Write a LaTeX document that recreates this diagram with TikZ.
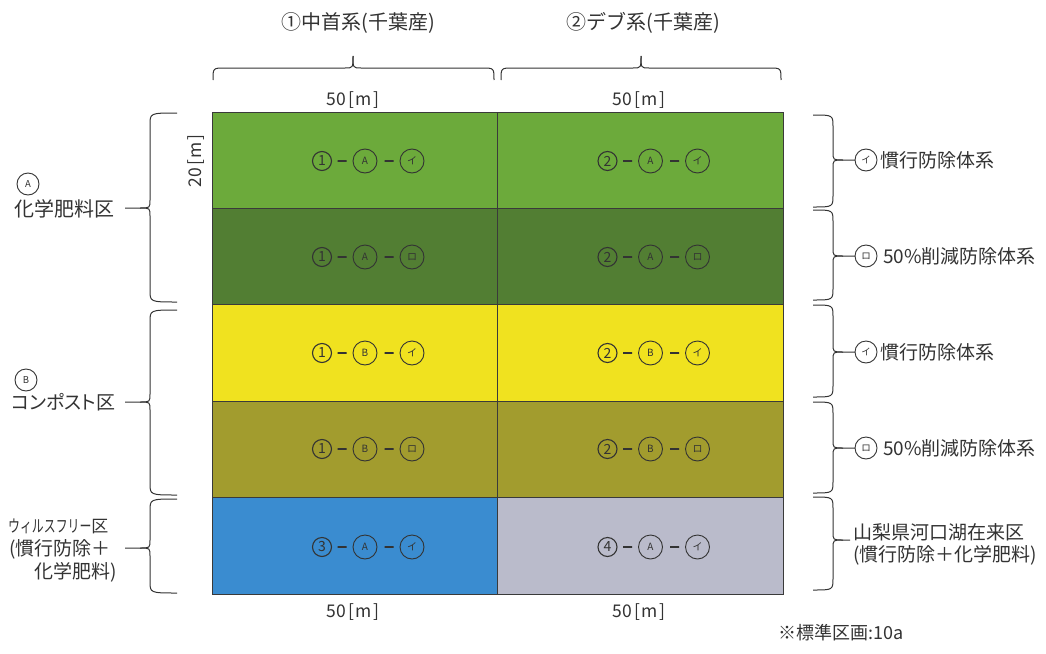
\documentclass[tikz,border=0pt]{standalone}
\usepackage{fontspec}
\usepackage{graphicx}
\setmainfont{Noto Sans CJK JP}
\definecolor{cA}{HTML}{6CAA3B}
\definecolor{cB}{HTML}{527E33}
\definecolor{cC}{HTML}{F0E21F}
\definecolor{cD}{HTML}{A29C2E}
\definecolor{cE}{HTML}{3A8CD0}
\definecolor{cF}{HTML}{BABBCB}
\definecolor{txt}{HTML}{333333}
\definecolor{gridc}{HTML}{3A3A3A}
\newcommand\bracL[3]{%
  \draw[brc] (177,#1) .. controls (150,#1) .. (150,{#1+12}) -- (150,{#3-8}) .. controls (150,#3) .. (140,#3) -- (125,#3);
  \draw[brc] (140,#3) .. controls (150,#3) .. (150,{#3+8}) -- (150,{#2-12}) .. controls (150,#2) .. (177,#2);}
\newcommand\bracR[4]{%
  \draw[brc] (813,#1) .. controls (833,#1) .. (833,{#1+12}) -- (833,{#3-8}) .. controls (833,#3) .. (843,#3) -- (#4,#3);
  \draw[brc] (843,#3) .. controls (833,#3) .. (833,{#3+8}) -- (833,{#2-12}) .. controls (833,#2) .. (813,#2);}
\newcommand\bracT[3]{%
  \draw[brc] (#1,80) .. controls (#1,68) .. ({#1+12},68) -- ({#3-8},68) .. controls (#3,68) .. (#3,56);
  \draw[brc] (#3,56) .. controls (#3,68) .. ({#3+8},68) -- ({#2-12},68) .. controls (#2,68) .. (#2,80);}
\newcommand\cellL[6]{%
  \node[ncirc] (#1n) at ({#2-33},#3) {#4};
  \node[dashf] (#1d1) at ({#2-13},#3) {};
  \node[circ] (#1a) at ({#2+10},#3) {#5};
  \node[dashf] (#1d2) at ({#2+34},#3) {};
  \node[circ] (#1b) at ({#2+57},#3) {#6};}
\newcommand\meter[1]{#1\hspace{2.5pt}[\hspace{1.5pt}m\hspace{1.5pt}]}
\begin{document}
\begin{tikzpicture}[x=1pt,y=-1pt,
  cell/.style={draw=gridc, line width=0.7pt, minimum width=285.5pt, minimum height=96.4pt, inner sep=0},
  brc/.style={draw=txt, line width=1pt},
  lbl/.style={text=txt, inner sep=0, font=\fontsize{19}{22}\selectfont},
  mlbl/.style={text=txt, inner sep=0, font=\fontsize{17.5}{20}\selectfont},
  big/.style={text=txt, inner sep=0, font=\fontsize{20}{22}\selectfont},
  ncirc/.style={circle, draw=txt, line width=1.1pt, minimum size=19pt, inner sep=0, text=txt, font=\fontsize{14}{14}\selectfont},
  dashf/.style={draw=txt, line width=1.1pt, minimum width=9pt, minimum height=0pt, inner sep=0, rectangle, fill=txt},
  circ/.style={circle, draw=txt, line width=0.9pt, minimum size=24pt, inner sep=0, text=txt, font=\fontsize{10}{10}\selectfont},
  scirc/.style={circle, draw=txt, line width=0.9pt, minimum size=22pt, inner sep=0, text=txt, font=\fontsize{9.5}{10}\selectfont}]
\useasboundingbox (0,0) rectangle (1046,653);
\fill[white] (0,0) rectangle (1046,653);
% cells
\node[cell, fill=cA] (r1l) at (355,160.2) {};
\node[cell, fill=cA] (r1r) at (640.5,160.2) {};
\node[cell, fill=cB] (r2l) at (355,256.6) {};
\node[cell, fill=cB] (r2r) at (640.5,256.6) {};
\node[cell, fill=cC] (r3l) at (355,353) {};
\node[cell, fill=cC] (r3r) at (640.5,353) {};
\node[cell, fill=cD] (r4l) at (355,449.4) {};
\node[cell, fill=cD] (r4r) at (640.5,449.4) {};
\node[cell, fill=cE] (r5l) at (355,545.8) {};
\node[cell, fill=cF] (r5r) at (640.5,545.8) {};
% cell labels
\cellL{a}{355}{161}{1}{A}{イ}
\cellL{b}{640.5}{161}{2}{A}{イ}
\cellL{c}{355}{257}{1}{A}{ロ}
\cellL{d}{640.5}{257}{2}{A}{ロ}
\cellL{e}{355}{353}{1}{B}{イ}
\cellL{f}{640.5}{353}{2}{B}{イ}
\cellL{g}{355}{449}{1}{B}{ロ}
\cellL{h}{640.5}{449}{2}{B}{ロ}
\cellL{i}{355}{547}{3}{A}{イ}
\cellL{j}{640.5}{547}{4}{A}{イ}
% top
\node[big] (t1) at (358,23) {①中首系(千葉産)};
\node[big] (t2) at (643,23) {②デブ系(千葉産)};
\bracT{213}{494}{353}
\bracT{501}{781}{641}
\node[mlbl] (m1) at (353,100) {\meter{50}};
\node[mlbl] (m2) at (639,100) {\meter{50}};
\node[mlbl] (m3) at (353,612) {\meter{50}};
\node[mlbl] (m4) at (639,612) {\meter{50}};
\node[mlbl, rotate=90] (m5) at (196,161) {\meter{20}};
% left
\node[scirc] (lA) at (28,184) {A};
\node[big, anchor=west] (lA2) at (14,209) {化学肥料区};
\node[scirc] (lB) at (26,380) {B};
\node[lbl, anchor=west] (lB2) at (11,402) {\addfontfeatures{RawFeature=+palt}コンポスト区};
\node[anchor=west, text=txt, inner sep=0, font=\fontsize{17}{20}\selectfont] (lC1) at (8,526) {\scalebox{0.7}[1]{ウィルスフリー}区};
\node[lbl, anchor=west] (lC2) at (9,549) {(慣行防除＋};
\node[lbl, anchor=west] (lC3) at (34,572) {化学肥料)};
\bracL{113}{302}{208}
\bracL{310}{495}{402}
\bracL{499}{593}{548}
% right
\bracR{115}{207}{160}{855}
\bracR{210}{300}{256}{855}
\bracR{305}{397}{352}{855}
\bracR{402}{493}{448}{855}
\bracR{497}{590}{540}{850}
\node[scirc] (ri1) at (866,160) {イ};
\node[lbl, anchor=west] (rt1) at (880,160) {慣行防除体系};
\node[scirc] (ri2) at (866,256) {ロ};
\node[lbl, anchor=west] (rt2) at (883,256) {50\%削減防除体系};
\node[scirc] (ri3) at (866,352) {イ};
\node[lbl, anchor=west] (rt3) at (880,352) {慣行防除体系};
\node[scirc] (ri4) at (866,448) {ロ};
\node[lbl, anchor=west] (rt4) at (883,448) {50\%削減防除体系};
\node[lbl, anchor=west] (rt5) at (853,532) {山梨県河口湖在来区};
\node[lbl, anchor=west] (rt6) at (853,555) {(慣行防除＋化学肥料)};
\node[anchor=west, text=txt, inner sep=0, font=\fontsize{18}{20}\selectfont] (ft) at (778,633) {※標準区画:10a};
\end{tikzpicture}
\end{document}
